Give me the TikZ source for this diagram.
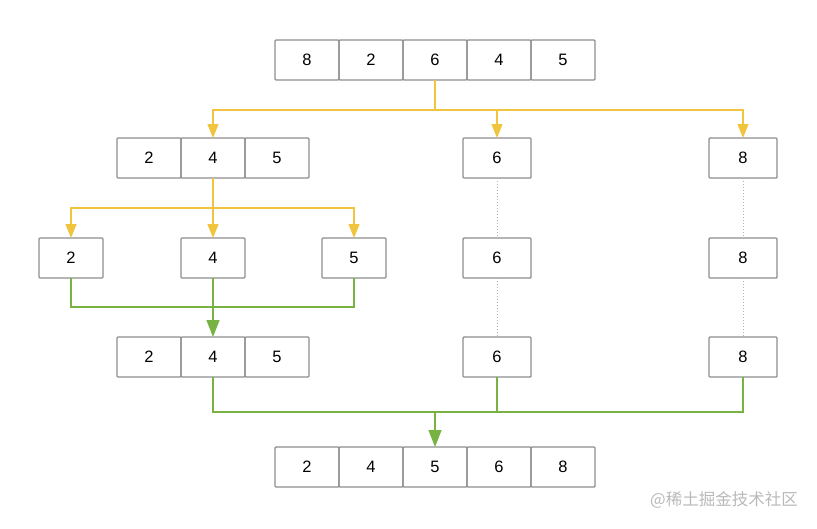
\documentclass[tikz,border=0pt]{standalone}
\usepackage{fontspec}
\setmainfont{Liberation Sans}
\newfontfamily\cjk{Noto Sans CJK SC}
\usetikzlibrary{positioning, arrows.meta}
\definecolor{cellGray}{HTML}{8E8E8E}
\definecolor{splitYellow}{HTML}{F0C43C}
\definecolor{mergeGreen}{HTML}{78B243}

\begin{document}
\begin{tikzpicture}[
    x=1pt, y=-1pt,
    node distance=0pt,
    cell/.style={draw=cellGray, line width=1.4pt, rounded corners=1pt, minimum width=64pt, minimum height=40pt,
      inner sep=0pt, outer sep=0pt, font=\fontsize{16.5}{19}\selectfont},
    single/.style={cell, minimum width=68pt},
    split/.style={draw=splitYellow, line width=1.4pt},
    splitarr/.style={split, -{Triangle[width=11pt, length=14pt]}},
    merge/.style={draw=mergeGreen, line width=1.4pt},
    mergearr/.style={merge, -{Triangle[width=13pt, length=17pt]}},
    keep/.style={draw=gray!60, line width=1pt, dotted},
  ]
    \useasboundingbox (0,0) rectangle (817,528);

    % input
    \foreach \i/\v in {0/8,1/2,2/6,3/4,4/5}
      \node[cell] (t\i) at (307+\i*64, 60) {\v};

    % level 1
    \foreach \i/\v in {0/2,1/4,2/5}
      \node[cell] (l\i) at (149+\i*64, 158) {\v};
    \node[single] (sixA) at (497, 158) {6};
    \node[single] (eightA) at (743, 158) {8};
    \coordinate (j1) at (435, 110);
    \draw[split] (t2.south) -- (j1);
    \draw[splitarr] (j1) -| (l1.north);
    \draw[splitarr] (j1) -| (sixA.north);
    \draw[splitarr] (j1) -| (eightA.north);

    % level 2
    \node[cell] (p0) at (71, 258) {2};
    \node[cell] (p1) at (213, 258) {4};
    \node[cell] (p2) at (354, 258) {5};
    \node[single] (sixB) at (497, 258) {6};
    \node[single] (eightB) at (743, 258) {8};
    \coordinate (j2) at (213, 208);
    \draw[split] (l1.south) -- (j2);
    \draw[splitarr] (j2) -| (p0.north);
    \draw[splitarr] (j2) -- (p1.north);
    \draw[splitarr] (j2) -| (p2.north);
    \draw[keep] (sixA.south) -- (sixB.north);
    \draw[keep] (eightA.south) -- (eightB.north);

    % level 3
    \foreach \i/\v in {0/2,1/4,2/5}
      \node[cell] (m\i) at (149+\i*64, 357) {\v};
    \node[single] (sixC) at (497, 357) {6};
    \node[single] (eightC) at (743, 357) {8};
    \coordinate (j3) at (213, 307);
    \draw[merge] (p0.south) |- (j3);
    \draw[merge] (p2.south) |- (j3);
    \draw[mergearr] (p1.south) -- (m1.north);
    \draw[keep] (sixB.south) -- (sixC.north);
    \draw[keep] (eightB.south) -- (eightC.north);

    % output
    \foreach \i/\v in {0/2,1/4,2/5,3/6,4/8}
      \node[cell] (o\i) at (307+\i*64, 467) {\v};
    \coordinate (j4) at (435, 412);
    \draw[merge] (m1.south) |- (j4);
    \draw[merge] (eightC.south) |- (j4);
    \draw[merge] (sixC.south) -- (sixC.south |- j4);
    \draw[mergearr] (j4) -- (o2.north);

    \node[text=gray!55, font=\cjk\fontsize{16.5}{19}\selectfont] (mark) at (724, 500) {@稀土掘金技术社区};
\end{tikzpicture}
\end{document}
